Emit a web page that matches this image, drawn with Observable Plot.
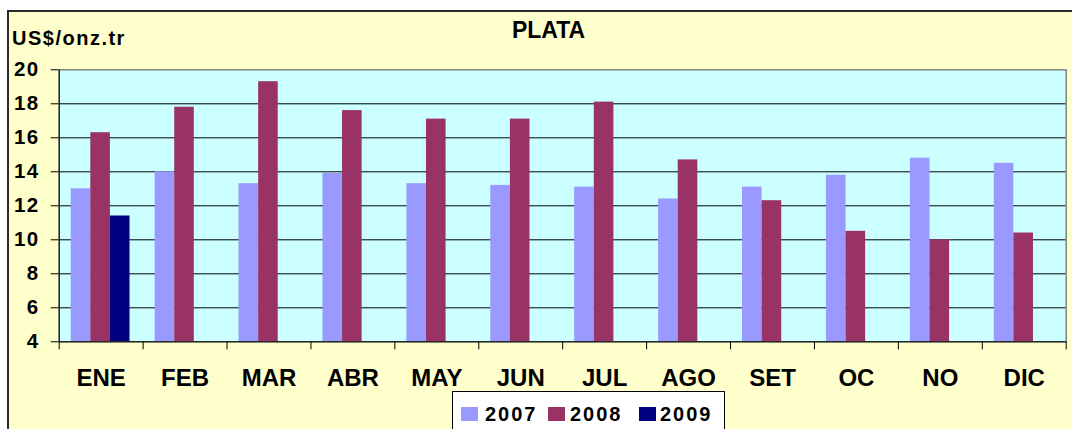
<!DOCTYPE html>
<html>
<head>
<meta charset="utf-8">
<script src="https://cdn.jsdelivr.net/npm/d3@7"></script>
<script src="https://cdn.jsdelivr.net/npm/@observablehq/plot@0.6"></script>
<style>
  html, body { margin: 0; padding: 0; background: #ffffff; }
  body { font-family: "Liberation Sans", Arial, sans-serif; font-weight: bold; }
  #wrap { position: relative; width: 1072px; height: 429px; overflow: hidden; }
  #panel { position: absolute; left: 7px; top: 10px; width: 1120px; height: 470px;
           border: 2px solid #2a2a2a; background: #FFFFCC; box-sizing: border-box; }
  #chart { position: absolute; left: 0; top: 0; }
  #chart svg text { font-weight: bold; }
  #title { position: absolute; left: 0; width: 1097px; top: 18.5px; text-align: center;
           font-size: 23px; line-height: 23px; color: #000; }
  #unit { position: absolute; left: 12px; top: 28px; font-size: 20px; line-height: 20px;
          letter-spacing: 1.5px; color: #000; white-space: nowrap; }
  #legend { position: absolute; left: 452px; top: 391px; width: 273px; height: 38px;
            border: 1px solid #000; border-bottom: none; background: #fff; box-sizing: border-box; }
  .sw { position: absolute; top: 15px; width: 17px; height: 14px; }
  .lbl { position: absolute; top: 12px; font-size: 20px; line-height: 20px; letter-spacing: 2px; color: #000; white-space: nowrap; }
</style>
</head>
<body>
<div id="wrap">
  <div id="panel"></div>
  <div id="chart"></div>
  <div id="title"></div>
  <div id="unit"></div>
  <div id="legend"></div>
</div>
<script>
// ---- data ----
const months = ["ENE","FEB","MAR","ABR","MAY","JUN","JUL","AGO","SET","OC","NO","DIC"];
const years = ["2007","2008","2009"];
const v2007 = [13.0,14.0,13.3,13.9,13.3,13.2,13.1,12.4,13.1,13.8,14.8,14.5];
const v2008 = [16.3,17.8,19.3,17.6,17.1,17.1,18.1,14.7,12.3,10.5,10.0,10.4];
const v2009 = [11.4];
const yTicks = [4,6,8,10,12,14,16,18,20];
const titleText = "PLATA";
const unitText = "US$/onz.tr";
const colors = ["#9999FF","#993366","#000080"];

// ---- layout ----
const W = 1072, H = 429;
const mL = 58.7, mR = 6.3, mT = 69.3, mB = 87.7;
const bw = (W - mL - mR) / months.length;
const barOffset = 12, barW = 19.6;

const series = [v2007, v2008, v2009];
const rows = [];
series.forEach((vals, k) => vals.forEach((v, i) => rows.push({month: months[i], year: years[k], k, value: v})));

const barMarks = years.map((yr, k) => Plot.barY(rows.filter(r => r.k === k), {
  x: "month", y1: yTicks[0], y2: "value", fill: colors[k],
  insetLeft: barOffset + k * barW,
  insetRight: bw - barOffset - (k + 1) * barW
}));

const gridVals = yTicks.slice(1, -1);
const y0 = yTicks[0];

const chart = Plot.plot({
  width: W, height: H,
  marginLeft: mL, marginRight: mR, marginTop: mT, marginBottom: mB,
  style: { background: "transparent", fontFamily: "Liberation Sans, Arial, sans-serif", color: "#000", overflow: "visible" },
  x: { type: "band", domain: months, padding: 0, round: false },
  y: { domain: [yTicks[0], yTicks[yTicks.length - 1]] },
  marks: [
    Plot.frame({ fill: "#CCFFFF" }),
    Plot.ruleY(gridVals, { stroke: "#000", strokeWidth: 1 }),
    ...barMarks,
    Plot.frame({ stroke: "#808080", strokeWidth: 1.5 }),
    Plot.ruleY([y0], { stroke: "#000" }),
    // left axis line
    Plot.ruleX([months[0]], { dx: -bw / 2, stroke: "#000" }),
    // category boundary ticks
    Plot.ruleX(months, { dx: -bw / 2, y1: y0, y2: y0, insetBottom: -8, stroke: "#000" }),
    Plot.ruleX([months[months.length - 1]], { dx: bw / 2, y1: y0, y2: y0, insetBottom: -8, stroke: "#000" }),
    Plot.axisY({ ticks: yTicks, label: null, tickSize: 8, tickPadding: 11.5, fontSize: 20.5, fontWeight: "bold",
                 stroke: "#000", fill: "#000" }),
    Plot.axisX({ label: null, tickSize: 0, tickPadding: 27, fontSize: 24, fontWeight: "bold", fill: "#000" })
  ]
});
document.getElementById("chart").appendChild(chart);
chart.querySelectorAll("g[aria-label='y-axis tick label'] text").forEach(t => t.setAttribute("letter-spacing", "1.5"));

document.getElementById("title").textContent = titleText;
document.getElementById("unit").textContent = unitText;

const legend = document.getElementById("legend");
const swLeft = [8, 95, 186];
const lbLeft = [32, 117, 207];
years.forEach((yr, k) => {
  const sw = document.createElement("div"); sw.className = "sw"; sw.style.background = colors[k]; sw.style.left = swLeft[k] + "px";
  const lb = document.createElement("span"); lb.className = "lbl"; lb.textContent = yr; lb.style.left = lbLeft[k] + "px";
  legend.appendChild(sw); legend.appendChild(lb);
});
</script>
</body>
</html>
